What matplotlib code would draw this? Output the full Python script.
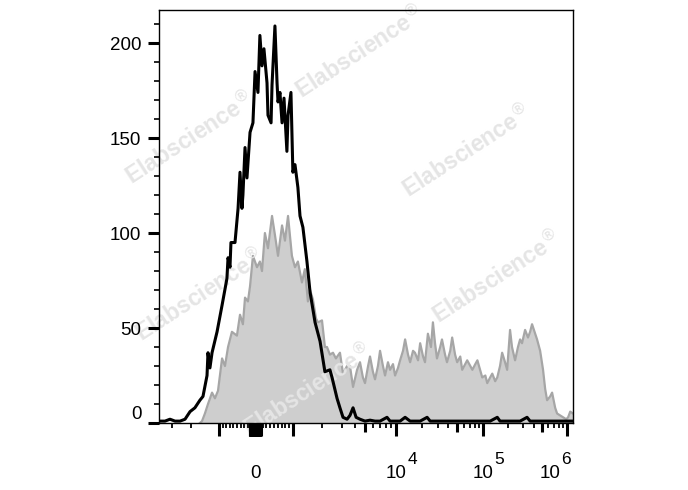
import numpy as np
import matplotlib.pyplot as plt

plt.rcParams['font.family'] = ['Liberation Sans', 'DejaVu Sans']

# histogram readings: x in display channels (0-256, biexponential), y in events
black_ch = [0.3, 3.4, 6.5, 9.6, 12.7, 15.8, 18.9, 21.9, 25.0, 26.9, 29.4, 30.0, 31.2,
            32.5, 35.6, 38.7, 41.7, 42.4, 43.6, 44.2, 46.7, 48.6, 49.8, 51.0, 51.6,
            52.9, 54.1, 56.0, 57.8, 59.1,
            60.9, 62.1, 63.4, 64.6, 66.5, 67.1, 69.0, 69.6, 71.4, 72.7, 73.3, 74.5,
            75.8, 77.0, 78.8, 79.5, 81.3, 82.5, 83.8, 85.6, 86.9, 88.7, 91.2, 93.1,
            96.2, 99.3, 102.3, 105.4, 106.7, 109.8, 111.6, 113.5, 116.0, 117.8, 119.7,
            121.6, 124.0, 127.1, 130.2, 133.3, 136.4, 140.7, 142.6, 145.7, 148.8,
            151.9, 155.0, 161.2, 165.5, 167.4, 173.6, 179.8, 186.0, 192.2, 198.3,
            204.5, 208.9, 210.6, 216.8, 223.0, 227.3, 229.2, 235.4, 241.6, 247.8,
            254.0, 255.7]
black_cnt = [1, 1, 2, 1, 1, 2, 6, 8, 12, 14, 25, 37, 29,
             37, 48, 62, 76, 87, 82, 95, 95, 113, 132, 113, 120,
             145, 129, 153, 158, 185,
             174, 204, 188, 197, 179, 162, 158, 178, 209, 179, 169, 174,
             158, 171, 143, 162, 174, 132, 136, 124, 109, 103, 85, 69,
             53, 43, 27, 28, 24, 13, 8, 3, 2, 4, 8,
             3, 2, 1, 1.5, 1, 1, 3, 1, 1, 1,
             3, 1, 1, 3, 1, 1, 1, 1, 1, 1,
             1, 3, 1, 1, 1, 3, 1, 1, 1, 1,
             1, 1]

gray_ch = [25.0, 26.3, 28.1, 30.0, 32.5, 34.3, 36.2, 38.7, 40.5, 42.4, 44.8, 47.9,
           49.8, 51.6, 52.9, 54.7, 56.0, 57.8, 60.3, 62.1, 63.4, 65.2, 67.1, 69.6,
           71.4, 73.3, 75.8, 77.6, 79.5, 81.9, 83.8, 85.6, 88.1, 89.9, 91.8, 93.1,
           94.9, 96.8, 98.0, 100.5, 102.3, 103.6, 105.4, 107.3, 109.1, 111.6, 113.5,
           116.0, 117.8, 119.7, 122.2, 124.0, 125.8, 127.1, 129.0, 130.2, 132.0,
           133.3, 135.1, 136.4, 138.2, 139.5, 141.3, 142.6, 144.4, 145.7, 147.5,
           148.8, 150.6, 151.9, 153.7, 155.0, 156.8, 158.0, 159.9, 161.2, 163.0,
           164.2, 166.0, 167.9, 169.1, 170.4, 171.6, 173.6, 174.7, 176.6, 177.8,
           179.8, 181.0, 182.8, 184.1, 186.0, 187.2, 189.1, 190.3, 192.2, 193.5,
           195.3, 196.6, 198.3, 199.6, 201.5, 202.7, 204.5, 205.8, 207.6, 208.9,
           210.6, 211.9, 213.7, 215.0, 216.8, 218.0, 219.9, 221.7, 223.0, 224.2,
           226.1, 227.9, 229.2, 230.4, 232.3, 233.5, 235.4, 237.2, 238.5, 239.7,
           241.6, 242.8, 244.7, 245.9, 247.8, 249.6, 251.5, 252.7, 254.0, 255.7]
gray_cnt = [0, 1, 5, 10, 16, 13, 17, 34, 30, 40, 48, 46,
            57, 52, 66, 64, 72, 88, 82, 85, 80, 100, 92, 109,
            99, 88, 104, 96, 109, 88, 82, 85, 74, 81, 64, 70,
            65, 55, 53, 54, 40, 40, 36, 37, 34, 37, 26,
            30, 30, 19, 28, 32, 24, 21, 30, 35, 27,
            23, 30, 38, 30, 25, 32, 28, 31, 25, 29,
            33, 38, 44, 36, 32, 38, 37, 33, 42, 35,
            32, 47, 40, 53, 42, 34, 40, 44, 36, 32,
            38, 45, 36, 32, 35, 28, 31, 33, 30, 28,
            31, 33, 28, 24, 25, 21, 24, 26, 22, 24,
            30, 37, 32, 28, 49, 40, 33, 40, 44, 42,
            49, 45, 48, 52, 47, 44, 38, 28, 18, 12,
            14, 16, 8, 5, 4, 3, 2, 3, 6, 5]

# biexponential axis: intensity -> display channel
knot_vals = np.array([-3000, -2000, -1000, 0, 1000, 2000, 3000, 5000, 1e4, 1e5, 1e6])
knot_ch = np.array([7.7, 19.5, 36.8, 59.1, 82.6, 100.5, 112.9, 127.1, 146.3, 200.1, 252.0])


def symlog_u(v):
    v = np.asarray(v, dtype=float)
    a = np.abs(v)
    return np.where(a <= 1000, v / 1000,
                    np.sign(v) * (1 + np.log10(np.maximum(a, 1000) / 1000)))


def to_channel(v):
    return np.interp(symlog_u(v), symlog_u(knot_vals), knot_ch)


major_vals = [-1000] + list(range(-150, 151, 10)) + [1000, 1e4, 1e5, 1e6]
mid_vals = [5e3, 5e4, 5e5]
minor_vals = ([-3000, -2000] + list(range(-900, -100, 100)) + list(range(200, 1000, 100))
              + [k * 10 ** d for d in (3, 4, 5) for k in (2, 3, 4, 6, 7, 8, 9)])

fig = plt.figure(figsize=(6.88, 4.9), dpi=100)
ax = fig.add_axes([0.2318, 0.1367, 0.6017, 0.8429])

ax.fill_between(gray_ch, gray_cnt, color='#cecece', lw=0, zorder=2)
ax.plot(gray_ch, gray_cnt, color='#a6a6a6', lw=1.6, zorder=3)
ax.plot(black_ch, black_cnt, color='black', lw=2.2, zorder=5)

ax.set_xlim(0, 256)
ax.set_ylim(0, 217.4)

ax.set_xticks(to_channel(major_vals))
ax.set_xticks(to_channel(minor_vals), minor=True)
ax.set_xticklabels([])
ax.tick_params(axis='x', which='major', length=9, width=2.2, direction='out')
ax.tick_params(axis='x', which='minor', length=3.5, width=1.3, direction='out')

sec = ax.secondary_xaxis('bottom')
sec.set_xticks(to_channel(mid_vals))
sec.set_xticklabels([])
sec.tick_params(length=6.5, width=2.2)
sec.spines['bottom'].set_visible(False)

ax.set_yticks([0, 50, 100, 150, 200])
ax.set_yticks(np.arange(10, 220, 10), minor=True)
ax.tick_params(axis='y', which='major', length=8, width=2.2, pad=5, labelsize=13.5)
ax.tick_params(axis='y', which='minor', length=3.5, width=1.2)
ax.yaxis.get_major_ticks()[0].label1.set_verticalalignment('bottom')
ax.yaxis.set_zorder(6)
ax.xaxis.set_zorder(6)

for s in ax.spines.values():
    s.set_linewidth(1.0)
    s.set_zorder(6)

# x labels: 0, 10^4, 10^5, 10^6
xlab = [(0, '0', '', 0), (1e4, '10', '4', 0), (1e5, '10', '5', 0), (1e6, '10', '6', -12)]
for v, base, ex, dx in xlab:
    xc = float(to_channel(v))
    ax.annotate(base, xy=(xc, 0), xycoords=('data', 'axes fraction'),
                xytext=(dx, -36), textcoords='offset points',
                ha='center', va='center', fontsize=13.5, annotation_clip=False)
    if ex:
        ax.annotate(ex, xy=(xc, 0), xycoords=('data', 'axes fraction'),
                    xytext=(dx + 8, -26), textcoords='offset points',
                    ha='left', va='center', fontsize=12.5, annotation_clip=False)

# watermarks, drawn between the filled histogram and the black outline
marks = [(0.523, 0.893), (0.276, 0.718), (0.679, 0.690),
         (0.722, 0.433), (0.291, 0.398), (0.448, 0.204)]
for mx, my in marks:
    ax.text(mx, my, r'Elabscience$^{\circledR}$', transform=fig.transFigure,
            rotation=33, rotation_mode='anchor', ha='center', va='center',
            fontsize=16.5, fontweight='bold', color='#e5e5e5', zorder=4,
            clip_on=False)

fig.savefig('out.png', dpi=100)
